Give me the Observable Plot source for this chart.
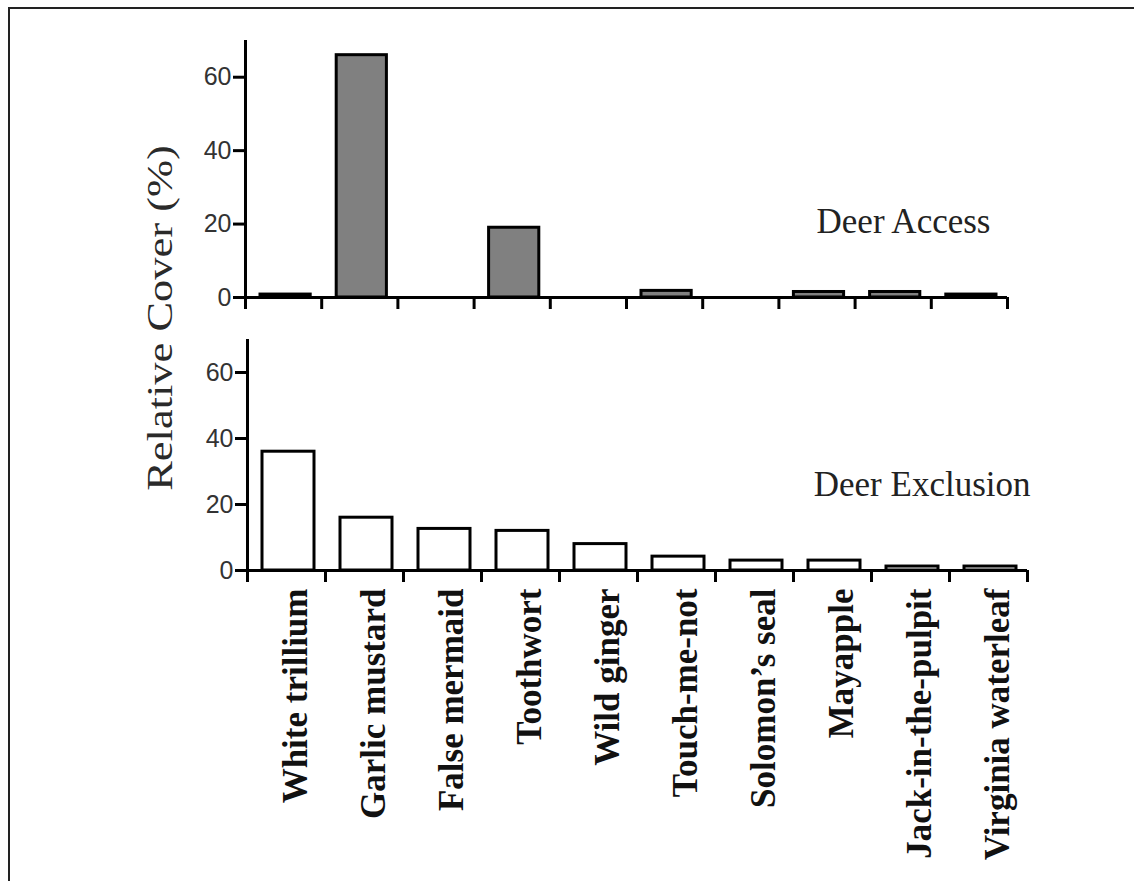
<!DOCTYPE html>
<html>
<head>
<meta charset="utf-8">
<script src="https://cdn.jsdelivr.net/npm/d3@7"></script>
<script src="https://cdn.jsdelivr.net/npm/@observablehq/plot@0.6"></script>
<style>
  html, body { margin: 0; padding: 0; background: white; }
  #wrap { position: relative; width: 1134px; height: 881px; overflow: hidden; background: white; }
  #frame { position: absolute; left: 8px; top: 7px; right: -10px; bottom: -10px;
           border-top: 2px solid #222; border-left: 2px solid #222; }
  .panel { position: absolute; left: 0; }
  #ylabel { position: absolute; left: 160px; top: 318px; white-space: nowrap; line-height: 1;
            font-family: "Liberation Serif", "Times New Roman", serif; font-size: 35px; color: #2a2a2a;
            transform: translate(-50%, -50%) rotate(-90deg) scaleX(1.27); }
</style>
</head>
<body>
<div id="wrap">
  <div id="frame"></div>
  <div id="top" class="panel" style="top:0px"></div>
  <div id="bottom" class="panel" style="top:320px"></div>
  <div id="ylabel"></div>
</div>
<script>
// ---- data ----
const categories = ["White trillium", "Garlic mustard", "False mermaid", "Toothwort", "Wild ginger",
  "Touch-me-not", "Solomon\u2019s seal", "Mayapple", "Jack-in-the-pulpit", "Virginia waterleaf"];
const accessValues = [0.8, 66, 0, 19, 0, 1.8, 0, 1.5, 1.5, 0.8];
const exclusionValues = [36, 16, 12.6, 12, 8, 4.2, 3, 3, 1.2, 1.2];
const yTicks = [0, 20, 40, 60];
const yDomain = [0, 70];
const panelLabels = ["Deer Access", "Deer Exclusion"];
const yAxisLabel = "Relative Cover (%)";

const serif = "'Liberation Serif', 'Times New Roman', serif";
const sans = "'Liberation Sans', Arial, Helvetica, sans-serif";

function panel({values, fill, label, height, marginLeft, marginRight, marginTop, marginBottom, showLabels, labelDx, labelDy}) {
  const data = categories.map((name, i) => ({name, i0: i, i1: i + 1, value: values[i]}));
  const marks = [
    Plot.rect(data, {x1: "i0", x2: "i1", y1: 0, y2: "value", fill, stroke: "black", strokeWidth: 3,
      insetLeft: 15, insetRight: 11}),
    Plot.ruleY([0], {stroke: "black", strokeWidth: 3}),
    Plot.ruleX([0], {stroke: "black", strokeWidth: 3}),
    Plot.axisY({ticks: yTicks, tickSize: 12, tickPadding: 2, strokeWidth: 3, label: null,
      fontSize: 25, fontFamily: sans, fill: "#333"}),
    Plot.axisX({ticks: d3.range(categories.length + 1), tickSize: 12, strokeWidth: 3,
      tickFormat: () => "", label: null}),
    Plot.text([label], {frameAnchor: "top-right", textAnchor: "end", lineAnchor: "bottom",
      dx: labelDx, dy: labelDy, fontSize: 35, fontFamily: serif, fill: "#222"})
  ];
  if (showLabels) {
    marks.push(Plot.axisX({ticks: categories.map((d, i) => i + 0.5), tickFormat: v => categories[Math.floor(v)],
      tickSize: 0, tickRotate: -90, tickPadding: 18, label: null, fontSize: 35, fontWeight: "bold",
      fontFamily: serif, fill: "#111", dx: 9}));
  }
  return Plot.plot({
    width: 1134, height, marginLeft, marginRight, marginTop, marginBottom,
    x: {domain: [0, categories.length]},
    y: {domain: yDomain},
    style: {background: "transparent", overflow: "visible"},
    marks
  });
}

document.getElementById("top").appendChild(panel({
  values: accessValues, fill: "#808080", label: panelLabels[0],
  height: 320, marginLeft: 245, marginRight: 127, marginTop: 40, marginBottom: 23,
  showLabels: false, labelDx: -17, labelDy: 192
}));

document.getElementById("bottom").appendChild(panel({
  values: exclusionValues, fill: "white", label: panelLabels[1],
  height: 561, marginLeft: 247, marginRight: 107, marginTop: 19, marginBottom: 311,
  showLabels: true, labelDx: 3, labelDy: 156
}));

document.getElementById("ylabel").textContent = yAxisLabel;
</script>
</body>
</html>
